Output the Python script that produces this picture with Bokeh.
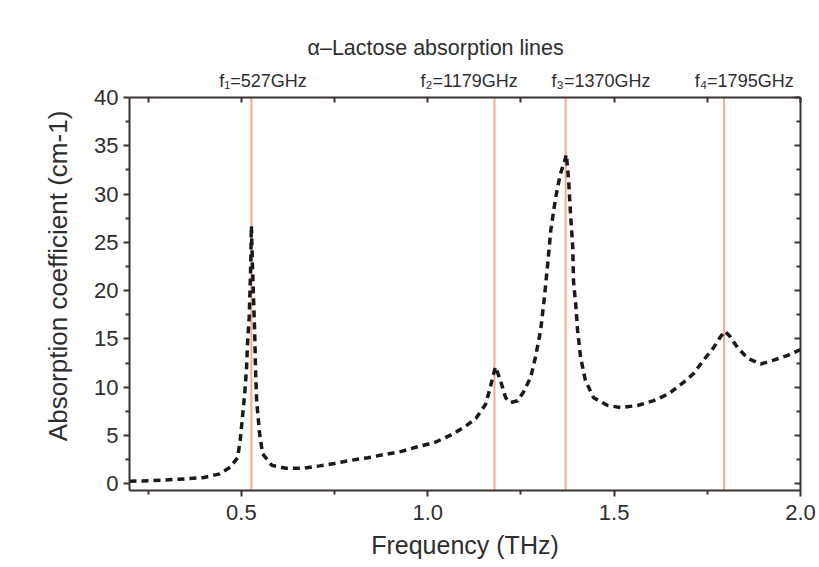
from bokeh.plotting import figure
from bokeh.models import LinearAxis, FixedTicker, Span, Range1d
from bokeh.embed import file_html
from bokeh.resources import INLINE

# ---- data ----
freq = [0.20, 0.26, 0.35, 0.40, 0.44, 0.47, 0.49, 0.497, 0.503, 0.509, 0.514, 0.517,
        0.521, 0.523, 0.525, 0.527, 0.530, 0.533, 0.536, 0.538, 0.541, 0.549, 0.557,
        0.582, 0.62, 0.665, 0.71, 0.75, 0.79, 0.84, 0.88, 0.93, 0.97, 1.02, 1.06, 1.10,
        1.13, 1.155, 1.168, 1.176, 1.182, 1.195, 1.209, 1.222, 1.241, 1.257, 1.276,
        1.289, 1.303, 1.313, 1.322, 1.330, 1.343, 1.356, 1.367, 1.372, 1.378, 1.383,
        1.389, 1.391, 1.397, 1.402, 1.410, 1.423, 1.445, 1.483, 1.517, 1.563, 1.606,
        1.646, 1.686, 1.713, 1.740, 1.767, 1.785, 1.797, 1.810, 1.831, 1.858, 1.893,
        1.928, 1.966, 2.0]
absorption = [0.25, 0.33, 0.5, 0.65, 1.0, 1.7, 2.7, 4.5, 6.9, 9.3, 12.0, 14.8,
              17.2, 19.7, 22.4, 26.7, 22.4, 19.0, 15.5, 12.0, 8.6, 5.2, 3.1,
              1.9, 1.6, 1.6, 1.85, 2.1, 2.4, 2.7, 3.0, 3.35, 3.8, 4.3, 5.0, 5.9,
              6.8, 8.2, 10.0, 11.3, 12.1, 10.7, 8.9, 8.4, 8.6, 9.5, 11.0,
              13.1, 15.9, 19.3, 22.8, 26.2, 29.6, 32.1, 33.4, 34.1, 31.4, 28.0,
              24.5, 21.0, 18.6, 15.9, 13.1, 10.7, 8.9, 8.1, 7.9, 8.1, 8.6,
              9.3, 10.5, 11.4, 12.8, 14.1, 15.2, 15.8, 15.3, 14.1, 13.0, 12.4,
              12.8, 13.3, 13.9]
line_freqs = [0.527, 1.179, 1.370, 1.795]
line_labels = ["f\u2081=527GHz", "f\u2082=1179GHz", "f\u2083=1370GHz", "f\u2084=1795GHz"]
x_ticks = [0.5, 1.0, 1.5, 2.0]
x_tick_labels = ["0.5", "1.0", "1.5", "2.0"]
x_minor = [0.25, 0.75, 1.25, 1.75]
y_ticks = [0, 5, 10, 15, 20, 25, 30, 35, 40]
y_tick_labels = ["0", "5", "10", "15", "20", "25", "30", "35", "40"]
y_minor = [2.5, 7.5, 12.5, 17.5, 22.5, 27.5, 32.5, 37.5]
title_text = "\u03b1\u2013Lactose absorption lines"
x_label = "Frequency (THz)"
y_label = "Absorption coefficient (cm-1)"

# ---- layout constants ----
label_x = [0.558, 1.111, 1.465, 1.849]
FONT = "Liberation Sans"
AX = "#3a3330"
TXT = "#2e2e2e"

p = figure(width=819, height=567, output_backend="svg", toolbar_location=None,
           x_range=Range1d(0.2, 2.0), y_range=Range1d(-0.7, 40),
           min_border_left=129, min_border_right=19, min_border_top=97,
           min_border_bottom=77, background_fill_color="white",
           border_fill_color="white")
p.outline_line_color = None
p.grid.visible = False

p.title.text = title_text
p.title.text_font = FONT
p.title.text_font_size = "21.5px"
p.title.text_font_style = "normal"
p.title.text_color = TXT
p.title.align = "left"
p.title.offset = 178
p.title.standoff = 16

xt = FixedTicker(ticks=x_ticks, minor_ticks=x_minor)
yt = FixedTicker(ticks=y_ticks, minor_ticks=y_minor)


def style_axis(ax, inward):
    ax.axis_line_color = AX
    ax.axis_line_width = 2
    ax.major_tick_line_color = AX
    ax.major_tick_line_width = 2
    ax.minor_tick_line_color = AX
    ax.minor_tick_line_width = 2
    if inward:
        ax.major_tick_in, ax.major_tick_out = 6, 0
        ax.minor_tick_in, ax.minor_tick_out = 4, 0
    else:
        ax.major_tick_in, ax.major_tick_out = 0, 6
        ax.minor_tick_in, ax.minor_tick_out = 0, 4
    ax.major_label_text_font = FONT
    ax.major_label_text_color = TXT
    ax.axis_label_text_font = FONT
    ax.axis_label_text_font_style = "normal"
    ax.axis_label_text_color = TXT


xa, ya = p.xaxis[0], p.yaxis[0]
style_axis(xa, False)
style_axis(ya, False)
xa.ticker = xt
ya.ticker = yt
xa.major_label_overrides = dict(zip(x_ticks, x_tick_labels))
ya.major_label_overrides = dict(zip(y_ticks, y_tick_labels))
xa.major_label_text_font_size = "22px"
ya.major_label_text_font_size = "22px"
xa.axis_label = x_label
ya.axis_label = "\u00a0" * 5 + y_label
xa.axis_label_text_font_size = "25px"
ya.axis_label_text_font_size = "26px"
xa.major_label_standoff = 8
ya.major_label_standoff = 5
xa.axis_label_standoff = 8
ya.axis_label_standoff = 18

# top axis: inward ticks + line-frequency labels
top_ticker = FixedTicker(ticks=label_x, minor_ticks=x_minor + x_ticks)
top = LinearAxis(ticker=top_ticker)
style_axis(top, True)
top.major_tick_in = 0
top.minor_tick_in = 5
top.major_label_overrides = dict(zip(label_x, line_labels))
top.major_label_text_font_size = "18px"
top.major_label_standoff = 7
p.add_layout(top, "above")

right = LinearAxis(ticker=yt)
style_axis(right, True)
right.major_label_overrides = {t: "" for t in y_ticks}
right.major_label_standoff = 0
p.add_layout(right, "right")

for f in line_freqs:
    p.add_layout(Span(location=f, dimension="height", line_color="#f5a98f",
                      line_width=2, level="underlay"))

p.line(freq, absorption, line_color="#1a1a1a", line_width=3.5, line_dash="7 5")

open("out.html", "w").write(file_html(p, INLINE))
